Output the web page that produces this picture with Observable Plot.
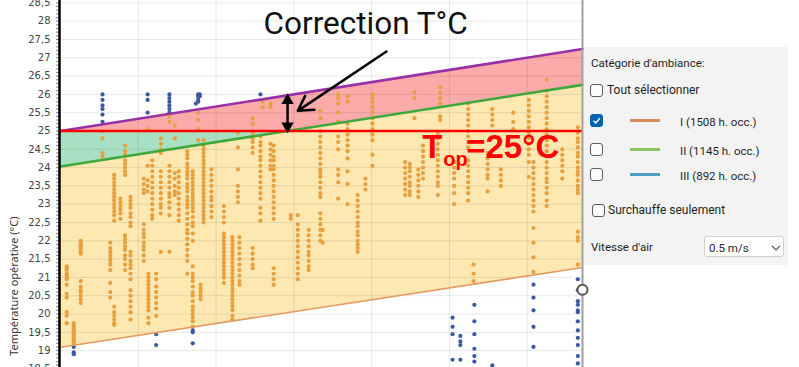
<!DOCTYPE html>
<html><head><meta charset="utf-8">
<script src="https://cdn.jsdelivr.net/npm/d3@7"></script>
<script src="https://cdn.jsdelivr.net/npm/@observablehq/plot@0.6"></script>
<style>
body{margin:0;background:#fff;}
#wrap{position:relative;width:799px;height:367px;overflow:hidden;font-family:"Noto Sans",sans-serif;}
#chart{position:absolute;left:0;top:0;}
#chart svg{overflow:visible;}
#panel{position:absolute;left:584px;top:47px;width:204px;height:218px;background:#f3f3f3;color:#1f1f1f;font-size:11.5px;line-height:13px;font-family:Roboto,"Noto Sans",sans-serif;}
.lbl{position:absolute;white-space:nowrap;font-family:Roboto,"Noto Sans",sans-serif;}
.cb{position:absolute;width:13px;height:13px;border:1px solid #5c5c5c;border-radius:3px;background:#fbfbfb;box-sizing:border-box;}
.cb.on{background:#0063b1;border-color:#0063b1;}
.sw{position:absolute;width:30px;height:3px;}
.dd{position:absolute;left:120px;top:189px;width:80px;height:21px;background:#fff;border:1px solid #d0d0d0;border-radius:3px;box-sizing:border-box;}
</style></head>
<body>
<div id="wrap"><div id="chart"></div><div id="panel"></div></div>
<script>
// ---- data ----
const trmDomain = [10, 16.71];
const purpleLine = [25.0, 27.24];   // upper limit with air-speed correction
const greenLine = [24.03, 26.26];   // upper limit cat. I
const orangeLine = [19.09, 21.27];  // lower limit cat. I
const topLimit = 25;
const yTicks = [18.5,19,19.5,20,20.5,21,21.5,22,22.5,23,23.5,24,24.5,25,25.5,26,26.5,27,27.5,28,28.5];
const xGrid = [11,12,13,14,15,16];

const orangeColumns = [
 [10.08,[21.3,21.25,21.2,21.1,21.05,21.0,20.95,20.8,20.55,20.45,20.05,19.95,19.75]],
 [10.17,[19.75,19.7,19.65,19.6,19.55,19.5,19.45,19.4,19.35,19.3,19.25,19.2]],
 [10.26,[22.0,21.95,21.9,21.85,21.8,21.75,21.7,21.65,20.9,20.75,20.65,20.6,20.5,20.4,20.3]],
 [10.54,[25.0,24.8,24.4,24.3]],
 [10.64,[21.95,21.8,21.7,21.6,21.5,21.45,21.35,21.2,20.85,20.6,20.45]],
 [10.69,[23.8,23.7,23.6,23.5,23.4,23.3,23.2,23.1,23.0,22.9,22.8,22.7,22.55,20.2,20.05,19.95,19.85,19.75,19.7]],
 [10.77,[23.15,23.05,22.95,22.85,22.75,22.6]],
 [10.83,[24.6,24.45,24.35,24.2,24.1,24.0,23.9,23.8,22.15,22.05,21.95,21.85,21.75,21.6,21.5,21.35,21.2]],
 [10.90,[23.2,23.1,23.0,22.9,22.75,22.65,22.5,22.4,21.7,21.6,21.45,21.35,21.25,21.1,20.95,20.65,20.5,20.35,20.2,20.05,19.85]],
 [11.07,[23.7,23.55,23.4,23.3,22.45,22.3,22.2,22.1,21.95,21.85,21.75,21.6,21.45]],
 [11.12,[25.05,24.05,23.65,23.5,23.35]],
 [11.13,[21.1,21.0,20.9,20.8,20.7,20.6,20.5,20.4,20.3,20.2,20.1,19.9,19.75]],
 [11.18,[24.2,24.05,23.9,23.75,23.6,23.45,23.3,23.15,23.0,22.85,22.7,22.6]],
 [11.23,[21.1,20.95,20.75,20.6,20.45,20.3,20.15,19.95]],
 [11.29,[24.8,24.65,24.5,24.4,23.9,23.75,23.6,23.45,23.3,23.15,23.0,22.9,22.75,21.7]],
 [11.40,[25.4,25.25,24.05,23.9,23.75,23.6,23.45,23.3,23.2,23.05,22.9,22.7,21.7]],
 [11.47,[25.15,24.8,23.85,23.7,23.5,23.35,23.25]],
 [11.52,[23.9,23.75,23.6,23.45,23.3,23.15,23.0,22.85,22.7,22.55]],
 [11.63,[24.45,24.35,24.25,24.1,24.0,23.9,23.8,23.7,23.55,23.45,23.35,23.2,23.1,23.0,22.9,22.75,22.6,22.45,22.3,22.2,22.05,21.9,21.75,21.6,21.45,21.1]],
 [11.70,[23.9,23.8,23.7,23.6,23.5,23.4,23.3,23.2,23.1,23.0,22.9,22.8,22.65,22.5,22.4,22.2,22.0,21.3,21.1,21.0,20.9,20.75,20.6,20.5,20.35,20.2,20.1,20.0,19.9,19.8,19.65]],
 [11.77,[25.5,25.3,25.05,24.75]],
 [11.80,[20.8,20.7,20.6,20.5,20.4]],
 [11.84,[24.75,24.6,24.5,24.4,24.3,24.2,24.1,24.0,23.9,23.8,23.7,23.6,23.5,23.4,23.3,23.2,23.1,23.0,22.9,22.8,22.7,22.6,22.5]],
 [11.94,[23.95,23.8,23.65,23.5,23.35,23.2,23.1,22.95,22.8,22.65]],
 [12.10,[22.95,22.8,22.65,22.5,22.2,22.1,22.0,21.9,21.8,21.7,21.6,21.5,21.4,21.3,21.2,21.1,21.0,20.85]],
 [12.21,[22.1,22.0,21.9,21.8,21.7,21.6,21.5,21.4,21.3,21.2,21.1,21.0,20.9,20.8,20.7,20.6,20.5,20.4,20.3,20.2,20.1,19.95,19.85]],
 [12.28,[24.95,24.55,23.95,23.5,23.35,23.2,23.05]],
 [12.30,[22.1,21.95,21.8,21.65,21.5,21.35,21.2,21.05,20.9,20.8]],
 [12.47,[25.35,25.2,24.95,24.8,24.7,24.55,24.4,21.8,21.65,21.5,21.35,21.25]],
 [12.57,[24.85,24.7,24.6,24.45,24.3,24.2,24.05,23.9,23.75,23.6,23.45,23.3,23.15,22.9,22.75,22.55]],
 [12.60,[25.8,25.65]],
 [12.70,[25.75,25.65,24.65,24.5,24.35,24.2,24.05,23.95]],
 [12.74,[24.6,24.45,24.3,24.2,24.05,23.95,23.8,23.65,23.5,23.35,23.2,23.05,22.9,22.75,22.6,21.25,21.1,20.95,20.8]],
 [12.96,[22.7,22.6]],
 [13.05,[22.7,22.45,22.3,22.15,22.0,21.85,21.7,21.55,21.4,21.25,21.1,20.95]],
 [13.19,[22.3,22.15,22.0,21.85,21.7,21.6,21.45,21.3,21.2]],
 [13.34,[25.55,25.35,25.0,24.85,24.7,24.55,24.4,24.25,24.1,23.95,23.85,23.75,23.6,23.45,23.3,23.2,22.75,22.6,22.45,22.3,22.15,22.0]],
 [13.37,[22.3,21.95]],
 [13.57,[26.0,25.9,25.75,25.5,25.25,24.85,24.7,24.5,23.95,23.8,23.6,23.15]],
 [13.69,[25.95,25.8,25.2,25.05,24.9,24.75,24.6,24.45,24.25,23.9,23.55,23.0]],
 [13.82,[23.25,23.1,22.95,22.8,22.65,22.5,22.4,22.25,22.15,22.0,21.9,21.8,21.7]],
 [13.92,[23.7,23.55,23.4]],
 [14.01,[26.0,25.9,25.8,25.65,25.5,25.35,25.2,25.05,24.9,24.75,24.35,24.05]],
 [14.43,[24.15,24.0,23.85,23.7,23.55,23.4,23.25]],
 [14.49,[24.1,24.0,23.9,23.75,23.6,23.5,23.35,23.25]],
 [14.55,[26.05,25.9,25.35]],
 [14.60,[23.95,23.8,23.65,23.5,23.35,23.2]],
 [14.66,[24.6,24.45,24.3,24.15,24.0,23.85,23.7]],
 [14.85,[24.95,24.8,24.65,24.5,24.35,24.2,24.05,23.9,23.75,23.6,23.5,23.25]],
 [14.88,[26.2,26.05,25.9,25.75,25.4,25.3]],
 [15.06,[24.15,24.0,23.85,23.7,23.5,23.3,23.0]],
 [15.24,[25.75,25.6,25.45,25.3,25.15,25.0,24.85,24.7,24.55,24.2,24.05,23.9,23.75,23.6,23.45,23.3,23.1]],
 [15.31,[21.35,21.1,20.9]],
 [15.49,[24.4,24.25,24.1,23.95,23.8,23.7,23.35]],
 [15.55,[25.6,25.45,25.3,25.15]],
 [15.66,[23.95,23.8,23.65,23.5]],
 [15.82,[25.5,25.25,25.05]],
 [16.02,[25.85,25.7,25.55,25.4,25.25,25.1,24.95,24.8,24.65,24.5,24.35,24.15,23.75]],
 [16.08,[24.15,24.0,23.85,23.7,23.55,23.4,23.25,23.1,22.95,22.8,22.35,21.95,21.55,21.15]],
 [16.25,[26.4,26.1,25.95,25.8,25.65,25.5,25.35,25.2,25.05,24.9,24.75,24.6,24.45,24.3,24.15,24.0,23.85,23.7,23.6,23.45,23.3,23.1,22.95]],
 [16.45,[24.5,24.35,24.2,24.05,23.9,23.7]],
 [16.65,[25.1,24.95,24.8,24.7,24.55,24.4,24.3,24.15,24.0,23.9,23.8,23.65,23.5,23.4,23.3,22.25,22.1,22.0,21.35]]
];
const blueColumns = [
 [10.17,[19.1,18.95,18.9]],
 [10.54,[26.0,25.85,25.7,25.6,25.45,25.25]],
 [11.12,[26.0,25.85,25.5]],
 [11.23,[19.45,19.15]],
 [11.40,[26.0,25.9,25.8,25.7,25.6,25.5]],
 [11.70,[19.55,19.5,19.2]],
 [11.74,[25.75]],
 [11.77,[26.0,25.95,25.85,25.8]],
 [11.79,[26.0,25.95]],
 [12.57,[26.0]],
 [15.04,[19.9,19.65,19.45,18.75]],
 [15.14,[19.4,19.25,19.15,18.75]],
 [15.32,[20.25,19.8,19.45,19.05,18.85,18.7]],
 [15.55,[18.6]],
 [16.08,[20.8,20.45,20.1,19.65,19.1]],
 [16.65,[20.95,20.65,20.35,20.25,20.1,20.05,19.8,19.55,19.35,19.15,18.85,18.65]]
];
const handlePoint = [{x: 16.71, y: 20.66}];

const categories = ["I (1508 h. occ.)", "II (1145 h. occ.)", "III (892 h. occ.)"];
const categoryColors = ["#d58b5c", "#8cc463", "#4f9fc3"];
const categoryChecked = [true, false, false];

const annotations = {
  correction: {x: 12.61, y: 27.66, text: "Correction T°C"},
  arrow: {x1: 14.19, y1: 27.17, x2: 13.05, y2: 25.55},
  top: {x: 14.65, y: 24.27}
};

// ---- derived geometry ----
const [x0, x1] = trmDomain;
const at = (line, x) => line[0] + (line[1] - line[0]) * (x - x0) / (x1 - x0);
const xCross = x0 + (topLimit - greenLine[0]) / (greenLine[1] - greenLine[0]) * (x1 - x0);
const yellowBand = [{x: x0, y1: orangeLine[0], y2: greenLine[0]}, {x: x1, y1: orangeLine[1], y2: greenLine[1]}];
const tealBand = [{x: x0, y1: greenLine[0], y2: topLimit}, {x: xCross, y1: topLimit, y2: topLimit}];
const pinkBand = [{x: x0, y1: topLimit, y2: purpleLine[0]}, {x: xCross, y1: topLimit, y2: at(purpleLine, xCross)}, {x: x1, y1: greenLine[1], y2: purpleLine[1]}];
const seg = (line) => [{x: x0, y: line[0]}, {x: x1, y: line[1]}];
const flat = (cols) => cols.flatMap(([trm, ts]) => ts.map(t => ({trm, t})));
const orangePts = flat(orangeColumns);
const bluePts = flat(blueColumns);
const dbl = [{x: xCross, y1: topLimit, y2: at(purpleLine, xCross)}];

const chart = Plot.plot({
  width: 583, height: 367,
  marginLeft: 60, marginRight: 1, marginTop: 0, marginBottom: 0,
  x: {domain: trmDomain, axis: null},
  y: {domain: [18.5, 28.5], range: [368.4, 2.4], axis: null},
  style: {fontFamily: "DejaVu Sans", background: "transparent", overflow: "visible"},
  marks: [
    Plot.areaY(yellowBand, {x: "x", y1: "y1", y2: "y2", fill: "#fde8b2"}),
    Plot.areaY(tealBand, {x: "x", y1: "y1", y2: "y2", fill: "#a8e0c3"}),
    Plot.areaY(pinkBand, {x: "x", y1: "y1", y2: "y2", fill: "#f9aaa9"}),
    Plot.gridY(yTicks, {stroke: "#000", strokeOpacity: 0.09}),
    Plot.gridX(xGrid, {stroke: "#000", strokeOpacity: 0.09}),
    Plot.axisY(d3.range(185, 286).map(v => v / 10), {tickSize: 4, tickFormat: () => "", stroke: "#666", strokeOpacity: 0.8}),
    Plot.axisY(yTicks, {tickSize: 0, tickPadding: 10, tickFormat: d => String(d).replace(".", ","), fontSize: 10, fill: "#444", label: null}),
    Plot.text([{y: 20.76, t: "Température opérative (°C)"}], {y: "y", text: "t", frameAnchor: "left", textAnchor: "middle", dx: -46, rotate: -90, fontSize: 11, fill: "#333", fontFamily: "Noto Sans"}),
    Plot.dot(orangePts, {x: "trm", y: "t", r: 2.1, fill: "#e6a040", stroke: "none"}),
    Plot.dot(bluePts, {x: "trm", y: "t", r: 2.1, fill: "#3d59a1", stroke: "none"}),
    Plot.line(seg(orangeLine), {x: "x", y: "y", stroke: "#e39a5c", strokeWidth: 1.6}),
    Plot.line(seg(greenLine), {x: "x", y: "y", stroke: "#3ea83a", strokeWidth: 2.6}),
    Plot.line(seg(purpleLine), {x: "x", y: "y", stroke: "#9a30a6", strokeWidth: 2.6}),
    Plot.ruleY([topLimit], {stroke: "#ff0000", strokeWidth: 2.6}),
    Plot.ruleX([x0], {stroke: "#000", strokeWidth: 2.5, dx: -1}),
    Plot.ruleX([x1], {stroke: "#a0a0a0", strokeWidth: 2}),
    Plot.dot(handlePoint, {x: "x", y: "y", r: 5, stroke: "#555", strokeWidth: 2, fill: "#fff"}),
    // annotations
    Plot.text([annotations.correction], {x: "x", y: "y", text: "text", textAnchor: "start", lineAnchor: "bottom", fontSize: 31.5, fontFamily: "Roboto", fill: "#111"}),
    Plot.arrow([annotations.arrow], {x1: "x1", y1: "y1", x2: "x2", y2: "y2", stroke: "#000", strokeWidth: 2.5, headLength: 10}),
    Plot.link(dbl, {x1: "x", x2: "x", y1: d => d.y1 + 0.12, y2: d => d.y2 - 0.12, stroke: "#000", strokeWidth: 2.5}),
    Plot.dot(dbl, {x: "x", y: "y2", symbol: "triangle", r: 4.6, fill: "#000", dy: 5}),
    Plot.dot(dbl, {x: "x", y: "y1", symbol: "triangle", r: 4.6, fill: "#000", dy: -5, rotate: 180}),
    Plot.text([annotations.top], {x: "x", y: "y", text: () => "T", textAnchor: "start", lineAnchor: "bottom", fontSize: 33, fontWeight: "bold", fontFamily: "Liberation Sans", fill: "#ff0000"}),
    Plot.text([annotations.top], {x: "x", y: "y", text: () => "op", textAnchor: "start", lineAnchor: "bottom", dx: 21, dy: 8, fontSize: 20, fontWeight: "bold", fontFamily: "Liberation Sans", fill: "#ff0000"}),
    Plot.text([annotations.top], {x: "x", y: "y", text: () => "=25°C", textAnchor: "start", lineAnchor: "bottom", dx: 44, fontSize: 33, fontWeight: "bold", fontFamily: "Liberation Sans", fill: "#ff0000"})
  ]
});
document.getElementById("chart").appendChild(chart);

// ---- side panel ----
const panel = document.getElementById("panel");
function add(html) { panel.insertAdjacentHTML("beforeend", html); }
const check = '<svg width="11" height="11" style="position:absolute;left:0;top:0"><path d="M2.5 5.8 L4.8 8 L8.8 3.2" fill="none" stroke="#fff" stroke-width="1.4"/></svg>';
add('<div class="lbl" style="left:7px;top:10px">Catégorie d\'ambiance:</div>');
add('<div class="cb" style="left:6px;top:37px"></div>');
add('<div class="lbl" style="left:23px;top:37px;font-size:12px">Tout sélectionner</div>');
const rowTops = [67, 96, 121];
categories.forEach((c, i) => {
  const t = rowTops[i];
  add(`<div class="cb${categoryChecked[i] ? " on" : ""}" style="left:6px;top:${t}px">${categoryChecked[i] ? check : ""}</div>`);
  add(`<div class="sw" style="left:46px;top:${t + 5}px;background:${categoryColors[i]}"></div>`);
  add(`<div class="lbl" style="left:96px;top:${t + 2}px;font-size:11.5px">${c}</div>`);
});
add('<div class="cb" style="left:8px;top:157px"></div>');
add('<div class="lbl" style="left:24px;top:157px;font-size:12px">Surchauffe seulement</div>');
add('<div class="lbl" style="left:7px;top:194px">Vitesse d\'air</div>');
add('<div class="dd"><div class="lbl" style="left:4px;top:5px">0.5 m/s</div><svg width="10" height="6" style="position:absolute;left:66px;top:8px"><path d="M1 1 L5 5 L9 1" fill="none" stroke="#555" stroke-width="1.1"/></svg></div>');
</script>
</body></html>
